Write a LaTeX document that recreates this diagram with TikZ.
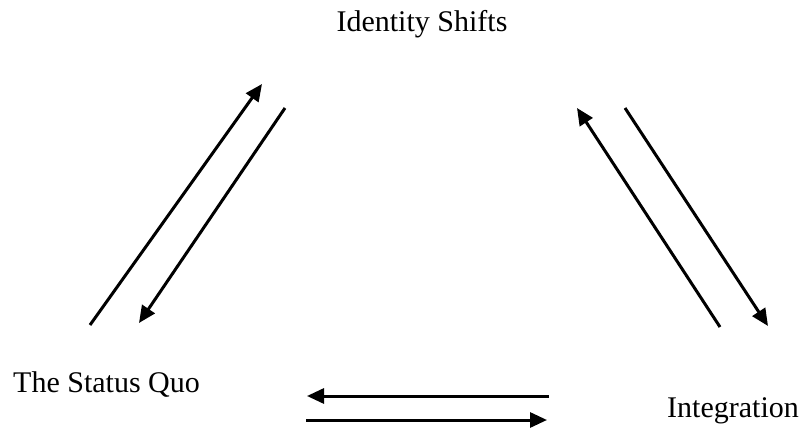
\documentclass[tikz,border=0pt]{standalone}
\usepackage{fontspec}
\setmainfont{Liberation Serif}
\usetikzlibrary{arrows.meta}

\begin{document}
\begin{tikzpicture}[
        x=1pt, y=-1pt,
        >={Triangle[length=17pt, width=15pt]},
        stagelab/.style={font=\fontsize{30}{36}\selectfont, inner sep=0pt},
        arrow/.style={->, line width=3pt, black}, ]

        \useasboundingbox (0,0) rectangle (810,430);

        % === STAGES ===
        \node[stagelab, anchor=base] (shifts) at (422,32) {Identity Shifts};
        \node[stagelab, anchor=base west] (statusquo) at (13,392) {The Status Quo};
        \node[stagelab, anchor=base west] (integration) at (667,417) {Integration};

        % === ARROW ENDS ===
        % status quo <-> identity shifts
        \coordinate (sq_up_a) at (90,325);
        \coordinate (sq_up_b) at (262,84);
        \coordinate (sq_dn_a) at (285,108);
        \coordinate (sq_dn_b) at (139,323);
        % integration <-> identity shifts
        \coordinate (in_up_a) at (720,327);
        \coordinate (in_up_b) at (577,108);
        \coordinate (in_dn_a) at (625,108);
        \coordinate (in_dn_b) at (768,326);
        % integration <-> status quo
        \coordinate (bt_lf_a) at (549,396);
        \coordinate (bt_lf_b) at (307,396);
        \coordinate (bt_rt_a) at (306,420);
        \coordinate (bt_rt_b) at (547,420);

        % === ARROWS ===
        \draw[arrow] (sq_up_a) -- (sq_up_b);
        \draw[arrow] (sq_dn_a) -- (sq_dn_b);
        \draw[arrow] (in_up_a) -- (in_up_b);
        \draw[arrow] (in_dn_a) -- (in_dn_b);
        \draw[arrow] (bt_lf_a) -- (bt_lf_b);
        \draw[arrow] (bt_rt_a) -- (bt_rt_b);
    \end{tikzpicture}
\end{document}
